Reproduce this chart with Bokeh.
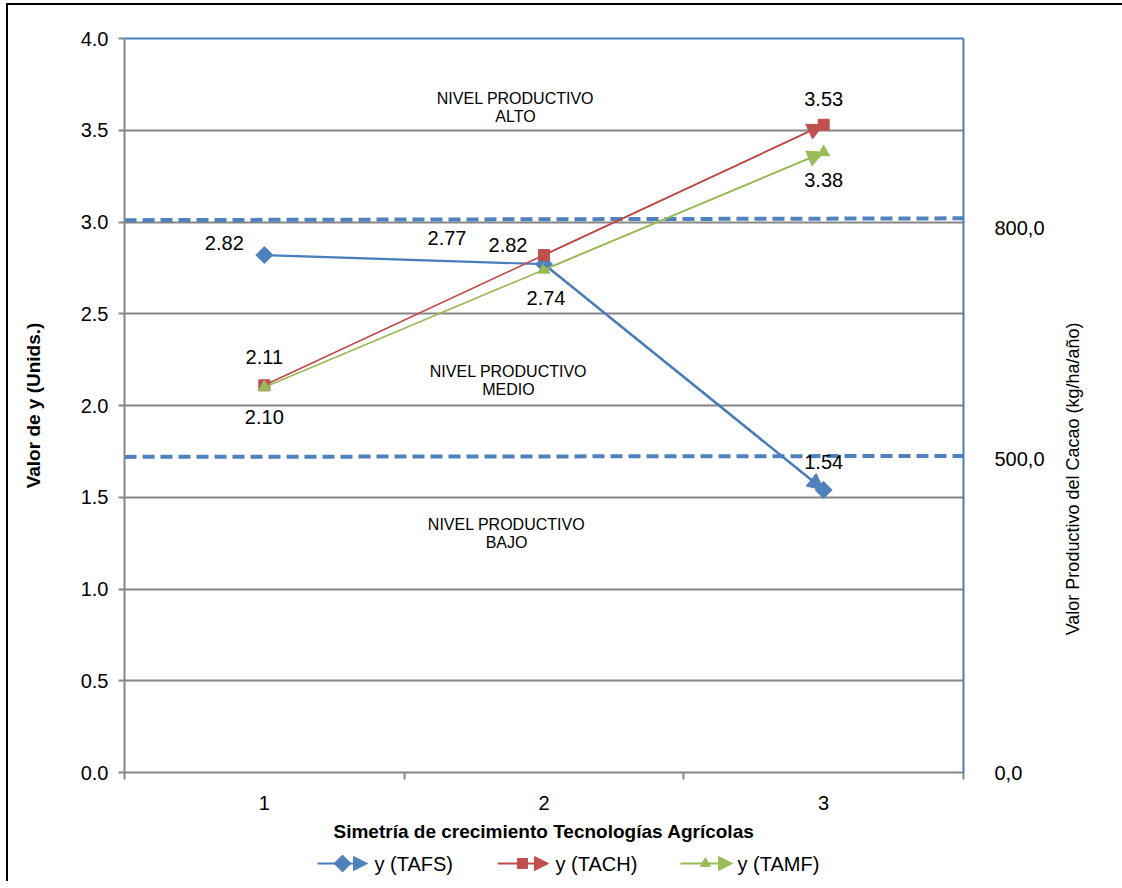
import math

from bokeh.core.properties import value
from bokeh.embed import file_html
from bokeh.layouts import column, row
from bokeh.models import (Arrow, FixedTicker, LinearAxis, NormalHead,
                          PrintfTickFormatter, Range1d)
from bokeh.plotting import figure
from bokeh.resources import INLINE

# ---- data -------------------------------------------------------------
categories = [1, 2, 3]
tafs = [2.82, 2.77, 1.54]
tach = [2.11, 2.82, 3.53]
tamf = [2.10, 2.74, 3.38]
series_names = ["y (TAFS)", "y (TACH)", "y (TAMF)"]

y_ticks = [0.0, 0.5, 1.0, 1.5, 2.0, 2.5, 3.0, 3.5, 4.0]
# productive level thresholds on the primary scale (start, end)
threshold_low = [1.72, 1.725]
threshold_high = [3.01, 3.02]
cacao_ticks = [0.0, 1.71, 2.97]
cacao_labels = ["0,0", "500,0", "800,0"]
cacao_title = "Valor Productivo del Cacao (kg/ha/año)"
level_names = ["NIVEL PRODUCTIVO\nALTO", "NIVEL PRODUCTIVO\nMEDIO", "NIVEL PRODUCTIVO\nBAJO"]

# ---- styling ------------------------------------------------------------
FONT = "Liberation Sans"
GRAY = "#868686"
BLUE_AX = "#4A7EBB"
colors = ["#4A7EBB", "#BE4B48", "#98B954"]
fills = ["#4F81BD", "#C0504D", "#9BBB59"]
markers = ["square", "square", "triangle"]
marker_angles = [math.pi / 4, 0, 0]
marker_sizes = [12, 11, 12]
line_widths = [2.2, 1.6, 1.6]
# data-label pixel offsets (dx, dy) per point, screen pixels
label_offsets = [
    [(-40, -12), (-97, -26), (0, -28)],
    [(0, -28), (-36, -10), (0, -26)],
    [(0, 30), (2, 28), (0, 28)],
]

LEFT, RIGHT, FRAME_W = 116, 87, 839
TOP, BOTTOM, HEIGHT = 33, 73, 840
TITLE_W = 72

p = figure(width=LEFT + FRAME_W + RIGHT, height=HEIGHT, x_range=Range1d(0.5, 3.5), y_range=Range1d(0, 4),
           output_backend="svg", toolbar_location=None,
           min_border_left=LEFT, min_border_right=RIGHT, min_border_top=TOP, min_border_bottom=BOTTOM,
           outline_line_color=None, background_fill_color="white", border_fill_color="white")

# x axis: labels at categories, tick marks between them
xa = p.xaxis[0]
xa.ticker = FixedTicker(ticks=categories, minor_ticks=[0.5, 1.5, 2.5, 3.5])
xa.major_tick_out = 0
xa.major_tick_in = 0
xa.minor_tick_out = 7
xa.minor_tick_in = 0
xa.minor_tick_line_color = GRAY
xa.minor_tick_line_width = 2
xa.axis_line_color = GRAY
xa.axis_line_width = 2
xa.major_label_standoff = 16
xa.major_label_text_font = FONT
xa.major_label_text_font_size = "20px"
xa.major_label_text_color = "black"
xa.axis_label = "Simetría de crecimiento Tecnologías Agrícolas"
xa.axis_label_text_font = FONT
xa.axis_label_text_font_style = "bold"
xa.axis_label_text_font_size = "19px"
xa.axis_label_text_color = "black"
xa.axis_label_standoff = 8

ya = p.yaxis[0]
ya.ticker = FixedTicker(ticks=y_ticks)
ya.formatter = PrintfTickFormatter(format="%.1f")
ya.major_tick_out = 6
ya.major_tick_in = 0
ya.major_tick_line_color = GRAY
ya.major_tick_line_width = 2
ya.minor_tick_line_color = None
ya.axis_line_color = GRAY
ya.axis_line_width = 2
ya.major_label_standoff = 10
ya.major_label_text_font = FONT
ya.major_label_text_font_size = "20px"
ya.major_label_text_color = "black"
ya.axis_label = "Valor de y (Unids.)"
ya.axis_label_text_font = FONT
ya.axis_label_text_font_style = "bold"
ya.axis_label_text_font_size = "19px"
ya.axis_label_text_color = "black"
ya.axis_label_standoff = 34

p.xgrid.visible = False
p.ygrid.ticker = FixedTicker(ticks=y_ticks[1:-1])
p.ygrid.grid_line_color = GRAY
p.ygrid.grid_line_width = 2

# secondary (cacao) axis on the right
ra = LinearAxis(ticker=FixedTicker(ticks=cacao_ticks),
                major_label_overrides=dict(zip(cacao_ticks, cacao_labels)),
                axis_line_color=BLUE_AX, axis_line_width=2,
                major_tick_line_color=None, minor_tick_line_color=None,
                major_label_standoff=25, major_label_text_font=FONT,
                major_label_text_font_size="20px", major_label_text_color="black")
p.add_layout(ra, "right")

# blue top border of the plot area
ta = LinearAxis(ticker=FixedTicker(ticks=[]), axis_line_color=BLUE_AX, axis_line_width=2,
                major_tick_line_color=None, minor_tick_line_color=None,
                major_label_text_font_size="0px")
p.add_layout(ta, "above")

# productive level thresholds
p.segment(x0=[0.5, 0.5], y0=[threshold_low[0], threshold_high[0]],
          x1=[3.5, 3.5], y1=[threshold_low[1], threshold_high[1]],
          line_color="#4F81BD", line_width=4, line_dash="12 6")

for name, pos in zip(level_names, [(1.898, 3.624), (1.873, 2.136), (1.866, 1.302)]):
    p.text(x=[pos[0]], y=[pos[1]], text=[name], text_font=value(FONT), text_font_size="16px",
           text_align="center", text_baseline="middle", text_color="black", text_line_height=1.1)

# series
for vals, c, f, m, ma, ms, lw in zip([tafs, tach, tamf], colors, fills, markers, marker_angles,
                                     marker_sizes, line_widths):
    p.line(categories, vals, line_color=c, line_width=lw)
    p.add_layout(Arrow(end=NormalHead(size=16, fill_color=f, line_color=f),
                       x_start=categories[-2], y_start=vals[-2],
                       x_end=categories[-1], y_end=vals[-1],
                       line_color=c, line_width=lw))
    p.scatter(categories, vals, marker=m, angle=ma, size=ms, fill_color=f, line_color=f)

for vals, offs in zip([tafs, tach, tamf], label_offsets):
    for xv, yv, (dx, dy) in zip(categories, vals, offs):
        p.text(x=[xv], y=[yv], text=[f"{yv:.2f}"], x_offset=dx, y_offset=dy,
               text_font=value(FONT), text_font_size="20px", text_align="center",
               text_baseline="middle", text_color="black")

# title strip of the secondary axis, sharing the vertical scale of the plot
tfig = figure(width=TITLE_W, height=HEIGHT, x_range=Range1d(0, 1), y_range=p.y_range,
              x_axis_type=None, y_axis_type=None, output_backend="svg", toolbar_location=None,
              min_border_left=0, min_border_right=0, min_border_top=TOP, min_border_bottom=BOTTOM,
              outline_line_color=None, background_fill_color="white", border_fill_color="white")
tfig.grid.visible = False
tfig.text(x=[0.306], y=[1.60], text=[cacao_title], angle=math.pi / 2, text_font=value(FONT),
          text_font_size="18px", text_align="center", text_baseline="middle", text_color="black")

# legend strip below the chart, sharing the horizontal layout of the plot
leg = figure(width=LEFT + FRAME_W + RIGHT + TITLE_W, height=36, x_range=p.x_range, y_range=Range1d(-1, 1),
             x_axis_type=None, y_axis_type=None, output_backend="svg", toolbar_location=None,
             min_border_left=LEFT, min_border_right=RIGHT + TITLE_W, min_border_top=0, min_border_bottom=0,
             outline_line_color=None, background_fill_color="white", border_fill_color="white")
leg.grid.visible = False

leg_line_x = [(1.190, 1.369), (1.834, 2.016), (2.488, 2.674)]
leg_marker_x = [1.2795, 1.923, 2.577]
leg_text_x = [1.394, 2.041, 2.692]
leg_marker_sizes = [12, 10, 10]
for i in range(3):
    leg.add_layout(Arrow(end=NormalHead(size=14, fill_color=fills[i], line_color=fills[i]),
                         x_start=leg_line_x[i][0], y_start=0, x_end=leg_line_x[i][1], y_end=0,
                         line_color=colors[i], line_width=2))
    leg.scatter([leg_marker_x[i]], [0], marker=markers[i], angle=marker_angles[i],
                size=leg_marker_sizes[i], fill_color=fills[i], line_color=fills[i])
    leg.text(x=[leg_text_x[i]], y=[0], text=[series_names[i]], text_font=value(FONT),
             text_font_size="20px", text_align="left", text_baseline="middle", text_color="black")

# outer chart border (left and top edges)
page = column(row(p, tfig, spacing=0), leg, spacing=0,
              styles={"margin-left": "6px", "margin-top": "3px",
                      "border-left": "2px solid black", "border-top": "2px solid black"})

open("out.html", "w").write(file_html(page, INLINE))
